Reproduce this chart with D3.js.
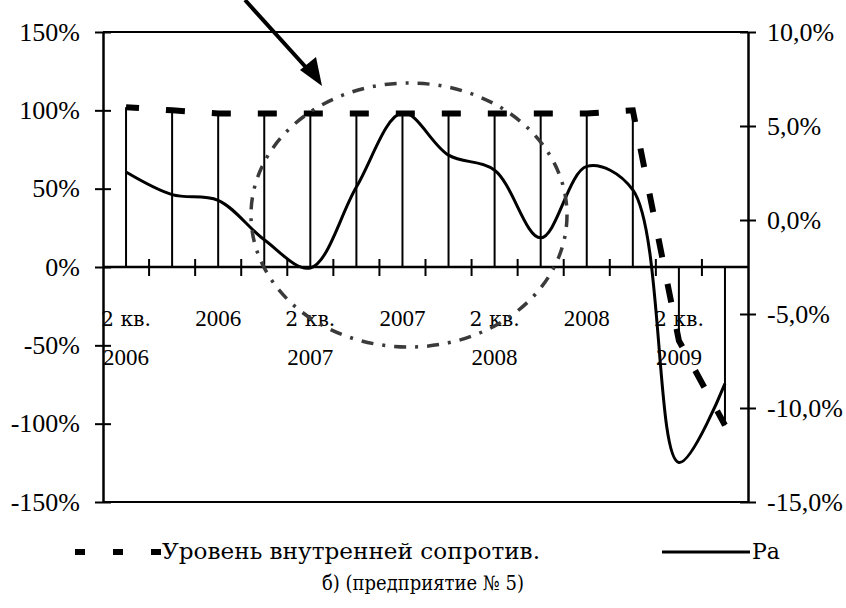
<!DOCTYPE html>
<html><head><meta charset="utf-8">
<script src="https://cdnjs.cloudflare.com/ajax/libs/d3/7.8.5/d3.min.js"></script>
<style>body{margin:0;background:#fff}svg{display:block}text{font-family:"Liberation Serif","DejaVu Serif",serif;fill:#000}</style>
</head><body><svg id="c" width="846" height="608"></svg>
<script>
const categories = ["2 кв. 2006","3 кв. 2006","4 кв. 2006","1 кв. 2007","2 кв. 2007","3 кв. 2007","4 кв. 2007","1 кв. 2008","2 кв. 2008","3 кв. 2008","4 кв. 2008","1 кв. 2009","2 кв. 2009","3 кв. 2009"];
const tickLabels = ["2 кв.\n2006","","2006","","2 кв.\n2007","","2007","","2 кв.\n2008","","2008","","2 кв.\n2009",""];
const resistance = [102,100,98,98,98,98,98,98,98,98,98,100,-47,-101];
const pa = [2.55,1.35,1.05,-1.05,-2.55,1.75,5.7,3.45,2.65,-0.95,2.85,1.6,-12.9,-8.7];
const leftTicks = [150,100,50,0,-50,-100,-150];
const leftTickLabels = ["150%","100%","50%","0%","-50%","-100%","-150%"];
const rightTicks = [10,5,0,-5,-10,-15];
const rightTickLabels = ["10,0%","5,0%","0,0%","-5,0%","-10,0%","-15,0%"];
const seriesNames = ["Уровень внутренней сопротив.","Ра"];
const caption = "б) (предприятие № 5)";

const FONT = '"Liberation Serif","DejaVu Serif",serif';
const CYR = '"DejaVu Serif",serif';
const svg = d3.select("#c");
const L = 103, R = 748, T = 32, B = 502;
const x = d3.scaleBand().domain(categories).range([L, R]).padding(0);
const cx = c => x(c) + x.bandwidth()/2;
const yL = d3.scaleLinear().domain([-150,150]).range([B, T]);
const yR = d3.scaleLinear().domain([-15,10]).range([B, T]);
const y0 = yL(0);

// frame
svg.append("line").attr("x1",L).attr("x2",R).attr("y1",T).attr("y2",T).attr("stroke","#000").attr("stroke-width",2);
svg.append("line").attr("x1",L).attr("x2",R).attr("y1",B).attr("y2",B).attr("stroke","#000").attr("stroke-width",2);

// left axis
const gl = svg.append("g").attr("transform",`translate(${L},0)`)
  .call(d3.axisLeft(yL).tickValues(leftTicks).tickSizeInner(8).tickSizeOuter(0).tickFormat((d,i)=>leftTickLabels[i]));
gl.attr("font-family",FONT);
gl.select(".domain").attr("stroke-width",2.5);
gl.selectAll(".tick line").attr("x2",8).attr("x1",-8).attr("stroke-width",2);
gl.selectAll(".tick text").attr("x",-23).attr("font-size",26).attr("fill","#000");

// right axis
const gr = svg.append("g").attr("transform",`translate(${R},0)`)
  .call(d3.axisRight(yR).tickValues(rightTicks).tickSizeInner(8).tickSizeOuter(0).tickFormat((d,i)=>rightTickLabels[i]));
gr.attr("font-family",FONT);
gr.select(".domain").attr("stroke-width",2.5);
gr.selectAll(".tick line").attr("x1",-8).attr("x2",8).attr("stroke-width",2);
gr.selectAll(".tick text").attr("x",19).attr("font-size",26).attr("fill","#000");

// x axis at 0%
svg.append("line").attr("x1",L).attr("x2",R).attr("y1",y0).attr("y2",y0).attr("stroke","#000").attr("stroke-width",2.5);
const bounds = categories.slice(1).map(c => x(c));
svg.selectAll(".xt").data(bounds).enter().append("line")
  .attr("x1",d=>d).attr("x2",d=>d).attr("y1",y0-8).attr("y2",y0+9).attr("stroke","#000").attr("stroke-width",2);

// x tick labels
categories.forEach((c,i)=>{
  const lines = tickLabels[i] ? tickLabels[i].split("\n") : [];
  lines.forEach((t,j)=>{
    const isCyr = /[а-я]/i.test(t);
    svg.append("text").attr("x",cx(c)).attr("y",326+j*39).attr("text-anchor","middle")
      .attr("font-size",isCyr?20:23).style("font-family",isCyr?CYR:FONT)
      .attr("textLength",isCyr?50:null).attr("lengthAdjust","spacingAndGlyphs").text(t);
  });
});

// drop lines for resistance series
svg.selectAll(".drop").data(categories).enter().append("line")
  .attr("x1",d=>cx(d)).attr("x2",d=>cx(d)).attr("y1",(d,i)=>yL(resistance[i])).attr("y2",y0)
  .attr("stroke","#000").attr("stroke-width",2);

// resistance dashed line
svg.append("path").datum(resistance)
  .attr("d", d3.line().x((d,i)=>cx(categories[i])).y(d=>yL(d)))
  .attr("fill","none").attr("stroke","#000").attr("stroke-width",6)
  .attr("stroke-dasharray","19,27").attr("stroke-dashoffset",6);

// Pa smooth line
svg.append("path").datum(pa)
  .attr("d", d3.line().x((d,i)=>cx(categories[i])).y(d=>yR(d)).curve(d3.curveCatmullRom.alpha(0.5)))
  .attr("fill","none").attr("stroke","#000").attr("stroke-width",3);

// annotation ellipse (dash-dot)
svg.append("ellipse").attr("cx",409).attr("cy",215).attr("rx",158).attr("ry",132)
  .attr("fill","none").attr("stroke","#3a3a3a").attr("stroke-width",3.5)
  .attr("stroke-dasharray","12,9,3,9");

// annotation arrow
svg.append("line").attr("x1",245).attr("y1",0).attr("x2",312).attr("y2",74)
  .attr("stroke","#000").attr("stroke-width",4);
svg.append("path").attr("d","M322,86 L300,70 L316,57 Z").attr("fill","#000");

// legend
svg.append("line").attr("x1",75).attr("x2",161).attr("y1",552).attr("y2",552)
  .attr("stroke","#000").attr("stroke-width",6).attr("stroke-dasharray","10,28");
svg.append("text").attr("x",162).attr("y",559).attr("font-size",22).style("font-family",CYR)
  .attr("textLength",378).attr("lengthAdjust","spacingAndGlyphs").text(seriesNames[0]);
svg.append("line").attr("x1",662).attr("x2",750).attr("y1",552).attr("y2",552)
  .attr("stroke","#000").attr("stroke-width",3);
svg.append("text").attr("x",752).attr("y",559).attr("font-size",22).style("font-family",CYR).text(seriesNames[1]);

// caption
svg.append("text").attr("x",423).attr("y",590).attr("text-anchor","middle").attr("font-size",20).style("font-family",CYR)
  .attr("textLength",202).attr("lengthAdjust","spacingAndGlyphs").text(caption);
</script></body></html>
